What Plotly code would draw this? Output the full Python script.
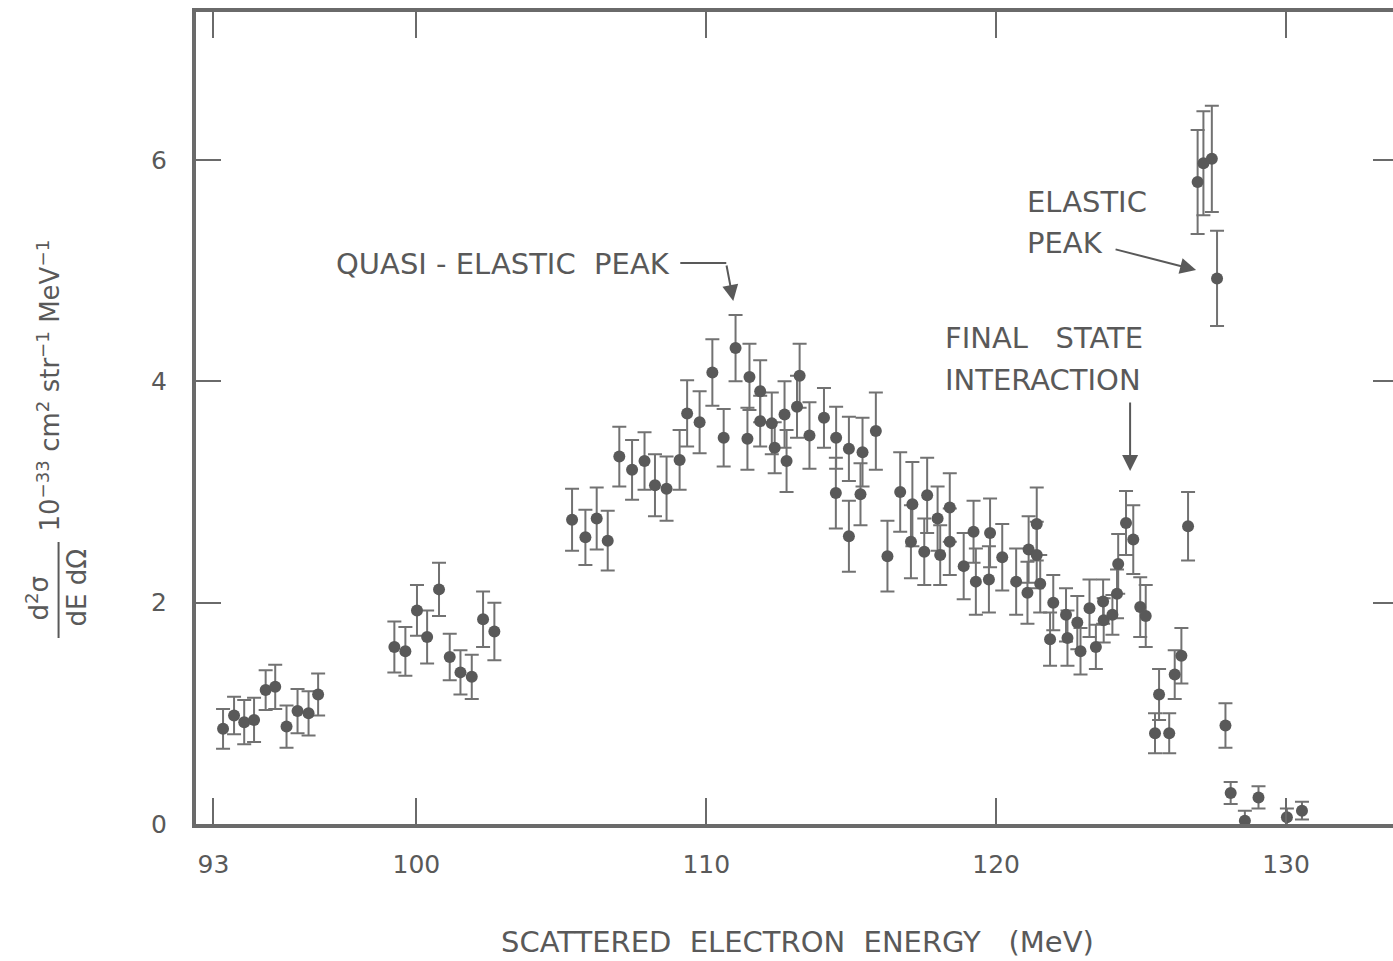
import plotly.graph_objects as go

# ---- data ----
energy = [93.33, 93.71, 94.06, 94.40, 94.80, 95.13, 95.52, 95.90, 96.28, 96.61,
          99.24, 99.62, 100.02, 100.37, 100.78, 101.15, 101.52, 101.91, 102.30, 102.69,
          105.37, 105.83, 106.22, 106.60, 107.00, 107.44, 107.87, 108.23, 108.63, 109.08,
          109.34, 109.77, 110.21, 110.60, 111.01, 111.42, 111.49, 111.86, 111.86, 112.26,
          112.36, 112.70, 112.77, 113.13, 113.22, 113.56, 114.06, 114.48, 114.47, 114.92,
          114.92, 115.39, 115.32, 115.85, 116.25, 116.69, 117.11, 117.06, 117.62, 117.52,
          117.98, 118.07, 118.40, 118.40, 118.88, 119.22, 119.30, 119.79, 119.75, 120.21,
          120.69, 121.12, 121.08, 121.40, 121.40, 121.52, 121.97, 121.86, 122.41, 122.46,
          122.80, 122.91, 123.22, 123.44, 123.69, 123.71, 124.01, 124.17, 124.21, 124.48,
          124.73, 124.97, 125.16, 125.48, 125.62, 125.97, 126.16, 126.39, 126.62, 126.95,
          127.15, 127.44, 127.62, 127.91, 128.09, 128.58, 129.05, 130.03, 130.55]
xsec = [0.86, 0.98, 0.92, 0.94, 1.21, 1.24, 0.88, 1.02, 1.00, 1.17,
        1.60, 1.56, 1.93, 1.69, 2.12, 1.51, 1.37, 1.33, 1.85, 1.74,
        2.75, 2.59, 2.76, 2.56, 3.32, 3.20, 3.28, 3.06, 3.03, 3.29,
        3.71, 3.63, 4.08, 3.49, 4.30, 3.48, 4.04, 3.91, 3.64, 3.62,
        3.40, 3.70, 3.28, 3.77, 4.05, 3.51, 3.67, 3.49, 2.99, 3.39,
        2.60, 3.36, 2.98, 3.55, 2.42, 3.00, 2.89, 2.55, 2.97, 2.46,
        2.76, 2.43, 2.86, 2.55, 2.33, 2.64, 2.19, 2.63, 2.21, 2.41,
        2.19, 2.48, 2.09, 2.71, 2.43, 2.17, 2.00, 1.67, 1.89, 1.68,
        1.82, 1.56, 1.95, 1.60, 2.01, 1.84, 1.89, 2.08, 2.35, 2.72,
        2.57, 1.96, 1.88, 0.82, 1.17, 0.82, 1.35, 1.52, 2.69, 5.80,
        5.97, 6.01, 4.93, 0.89, 0.28, 0.03, 0.24, 0.06, 0.12]
err = [0.18, 0.17, 0.20, 0.20, 0.18, 0.20, 0.19, 0.20, 0.20, 0.19,
       0.23, 0.22, 0.23, 0.24, 0.24, 0.21, 0.20, 0.20, 0.25, 0.26,
       0.28, 0.25, 0.28, 0.27, 0.27, 0.27, 0.26, 0.28, 0.29, 0.27,
       0.30, 0.28, 0.30, 0.26, 0.30, 0.28, 0.30, 0.28, 0.23, 0.28,
       0.23, 0.30, 0.28, 0.28, 0.29, 0.30, 0.27, 0.28, 0.32, 0.29,
       0.32, 0.31, 0.28, 0.35, 0.32, 0.36, 0.38, 0.33, 0.34, 0.30,
       0.29, 0.27, 0.31, 0.30, 0.30, 0.28, 0.30, 0.31, 0.30, 0.30,
       0.30, 0.30, 0.28, 0.33, 0.30, 0.26, 0.25, 0.24, 0.24, 0.25,
       0.24, 0.21, 0.26, 0.20, 0.20, 0.20, 0.18, 0.22, 0.27, 0.29,
       0.31, 0.27, 0.28, 0.18, 0.23, 0.18, 0.22, 0.25, 0.31, 0.47,
       0.47, 0.48, 0.43, 0.20, 0.10, 0.09, 0.10, 0.08, 0.08]

x_ticks = [93, 100, 110, 120, 130]
y_ticks = [0, 2, 4, 6]

INK = "#595959"
LINE = "#6a6a6a"
FONT = "DejaVu Sans"

fig = go.Figure()
fig.add_trace(go.Scatter(
    x=energy, y=xsec, mode="markers",
    marker=dict(size=12, color=INK),
    error_y=dict(type="data", array=err, visible=True, color="#727272", thickness=2, width=7),
    showlegend=False, hoverinfo="skip"))
# dummy trace to activate right-hand tick axis
fig.add_trace(go.Scatter(x=[], y=[], yaxis="y2", showlegend=False, hoverinfo="skip"))

XR = [92.397, 133.69]
YR = [0.0, 7.337]

fig.update_layout(
    width=1393, height=961,
    margin=dict(l=195.5, r=0, t=12, b=137),
    paper_bgcolor="white", plot_bgcolor="white",
    font=dict(family=FONT, color=INK),
    hovermode=False,
    xaxis=dict(range=XR, tickvals=x_ticks, ticktext=[str(v) for v in x_ticks],
               showgrid=False, zeroline=False, showline=True, linecolor=LINE, linewidth=4,
               mirror="ticks", ticks="inside", ticklen=26, tickwidth=2, tickcolor=LINE,
               tickfont=dict(size=25, color=INK, family=FONT), ticklabelstandoff=15),
    yaxis=dict(range=YR, tickvals=y_ticks, ticktext=[str(v) for v in y_ticks],
               showgrid=False, zeroline=False, showline=True, linecolor=LINE, linewidth=4,
               ticks="inside", ticklen=25, tickwidth=2, tickcolor=LINE,
               tickfont=dict(size=25, color=INK, family=FONT), ticklabelstandoff=20),
    yaxis2=dict(range=YR, overlaying="y", side="right", tickvals=[2, 4, 6],
                showgrid=False, zeroline=False, showline=False, showticklabels=False,
                ticks="inside", ticklen=20, tickwidth=2, tickcolor=LINE),
)

def px2x(px):
    return 93 + (px - 213) / 29.0

def px2y(py):
    return (824 - py) / 110.67

afont = dict(family=FONT, size=29, color=INK)

# QUASI-ELASTIC PEAK
fig.add_annotation(x=px2x(334), y=px2y(264), xref="x", yref="y", text="QUASI - ELASTIC  PEAK",
                   showarrow=False, xanchor="left", yanchor="middle", font=afont)
fig.add_shape(type="line", xref="x", yref="y", x0=px2x(680), x1=px2x(726), y0=px2y(263), y1=px2y(263),
              line=dict(color=INK, width=2))
fig.add_annotation(x=px2x(733), y=px2y(301), xref="x", yref="y", text="", showarrow=True,
                   ax=-7, ay=-37, arrowhead=2, arrowsize=1.6, arrowwidth=2, arrowcolor=INK)

# ELASTIC PEAK
fig.add_annotation(x=px2x(1025), y=px2y(202), xref="x", yref="y", text="ELASTIC",
                   showarrow=False, xanchor="left", yanchor="middle", font=afont)
fig.add_annotation(x=px2x(1025), y=px2y(243), xref="x", yref="y", text="PEAK",
                   showarrow=False, xanchor="left", yanchor="middle", font=afont)
fig.add_annotation(x=px2x(1196), y=px2y(270), xref="x", yref="y", text="", showarrow=True,
                   ax=-82, ay=-21, arrowhead=2, arrowsize=1.6, arrowwidth=2, arrowcolor=INK)

# FINAL STATE INTERACTION
fig.add_annotation(x=px2x(943), y=px2y(338), xref="x", yref="y", text="FINAL   STATE",
                   showarrow=False, xanchor="left", yanchor="middle", font=afont)
fig.add_annotation(x=px2x(943), y=px2y(380), xref="x", yref="y", text="INTERACTION",
                   showarrow=False, xanchor="left", yanchor="middle", font=afont)
fig.add_annotation(x=px2x(1130), y=px2y(471), xref="x", yref="y", text="", showarrow=True,
                   ax=0, ay=-70, arrowhead=2, arrowsize=1.6, arrowwidth=2, arrowcolor=INK)

def ppx(px):
    return (px - 195.5) / 1197.5

def ppy(py):
    return (824 - py) / 812

# X axis title
fig.add_annotation(x=ppx(797), y=ppy(942), xref="paper", yref="paper",
                   text="SCATTERED  ELECTRON  ENERGY   (MeV)", showarrow=False,
                   xanchor="center", yanchor="middle", font=afont)

# Y axis title (fraction + units)
tfont = dict(family=FONT, size=26, color=INK)
fig.add_annotation(x=ppx(37), y=ppy(598), xref="paper", yref="paper", text="d<sup>2</sup>σ",
                   textangle=-90, showarrow=False, xanchor="center", yanchor="middle", font=tfont)
fig.add_annotation(x=ppx(76), y=ppy(588), xref="paper", yref="paper", text="dE dΩ",
                   textangle=-90, showarrow=False, xanchor="center", yanchor="middle", font=tfont)
fig.add_shape(type="line", xref="paper", yref="paper", x0=ppx(58), x1=ppx(58), y0=ppy(542), y1=ppy(638),
              line=dict(color=INK, width=2))
fig.add_annotation(x=ppx(48), y=ppy(386), xref="paper", yref="paper",
                   text="10<sup>−33</sup> cm<sup>2</sup> str<sup>−1</sup> MeV<sup>−1</sup>",
                   textangle=-90, showarrow=False, xanchor="center", yanchor="middle", font=tfont)

fig.write_html("out.html", config={"displayModeBar": False, "staticPlot": True},
               post_script="document.body.style.margin='0px';document.body.style.overflow='hidden';")
